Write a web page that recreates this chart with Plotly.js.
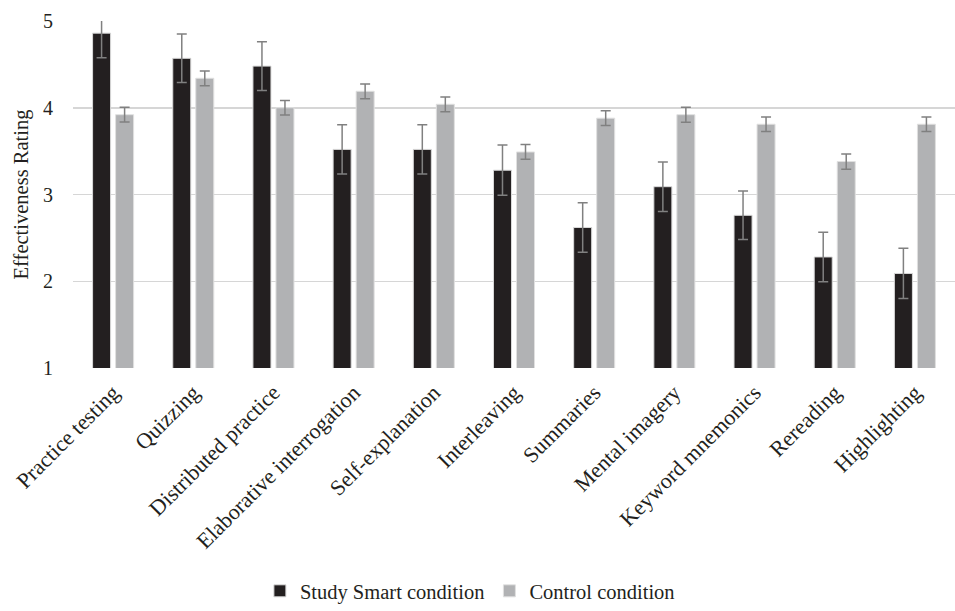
<!DOCTYPE html>
<html>
<head>
<meta charset="utf-8">
<script src="https://cdn.plot.ly/plotly-3.0.1.min.js"></script>
<style>html,body{margin:0;padding:0;background:#fff;}#chart{width:955px;height:611px;}</style>
</head>
<body>
<div id="chart"></div>
<script>
const categories = ["Practice testing","Quizzing","Distributed practice","Elaborative interrogation","Self-explanation","Interleaving","Summaries","Mental imagery","Keyword mnemonics","Rereading","Highlighting"];
const studySmart = [4.86, 4.57, 4.48, 3.52, 3.52, 3.28, 2.62, 3.09, 2.76, 2.28, 2.09];
const studySmartErr = [0.285, 0.28, 0.28, 0.285, 0.285, 0.29, 0.285, 0.285, 0.28, 0.285, 0.29];
const control = [3.92, 4.34, 4.00, 4.19, 4.04, 3.49, 3.88, 3.92, 3.81, 3.38, 3.81];
const controlErr = [0.085, 0.085, 0.085, 0.085, 0.085, 0.085, 0.085, 0.087, 0.083, 0.088, 0.083];
const yTicks = [1, 2, 3, 4, 5];

const font = "Liberation Serif";
const txt = "#231f20";

const traces = [
  {
    type: "bar", name: "Study Smart condition", x: categories, y: studySmart,
    marker: {color: "#231f20", line: {color: "#d9d9d9", width: 1}},
    error_y: {type: "data", array: studySmartErr, visible: true, color: "#808080", thickness: 1.5, width: 5}
  },
  {
    type: "bar", name: "Control condition", x: categories, y: control,
    marker: {color: "#b1b2b4", line: {color: "#e0e0e0", width: 1}},
    error_y: {type: "data", array: controlErr, visible: true, color: "#808080", thickness: 1.5, width: 5}
  }
];

const layout = {
  width: 955, height: 611,
  margin: {l: 73, r: 0, t: 21, b: 239},
  paper_bgcolor: "#fff", plot_bgcolor: "#fff",
  font: {family: font, size: 20, color: txt},
  barmode: "group", bargap: 0.426, bargroupgap: 0.217,
  showlegend: true,
  legend: {orientation: "h", x: 0.45, xanchor: "center", y: -0.645, yanchor: "middle",
           font: {family: font, size: 20.5, color: txt}, itemwidth: 30, tracegroupgap: 0},
  xaxis: {
    type: "category", tickangle: -45, showgrid: false, zeroline: false, showline: false,
    ticks: "outside", ticklen: 2, tickcolor: "rgba(0,0,0,0)",
    tickfont: {family: font, size: 22, color: txt}, automargin: false
  },
  yaxis: {
    range: [1, 5], tickvals: yTicks, ticktext: yTicks.map(String),
    showgrid: true, gridcolor: "#d6d6d6", gridwidth: 1.5, zeroline: false, showline: false,
    ticks: "outside", ticklen: 15, tickcolor: "rgba(0,0,0,0)",
    tickfont: {family: font, size: 20, color: txt},
    title: {text: "Effectiveness Rating", font: {family: font, size: 20.5, color: txt}, standoff: 8},
    automargin: false
  }
};

Plotly.newPlot("chart", traces, layout, {staticPlot: true, displayModeBar: false});
</script>
</body>
</html>
